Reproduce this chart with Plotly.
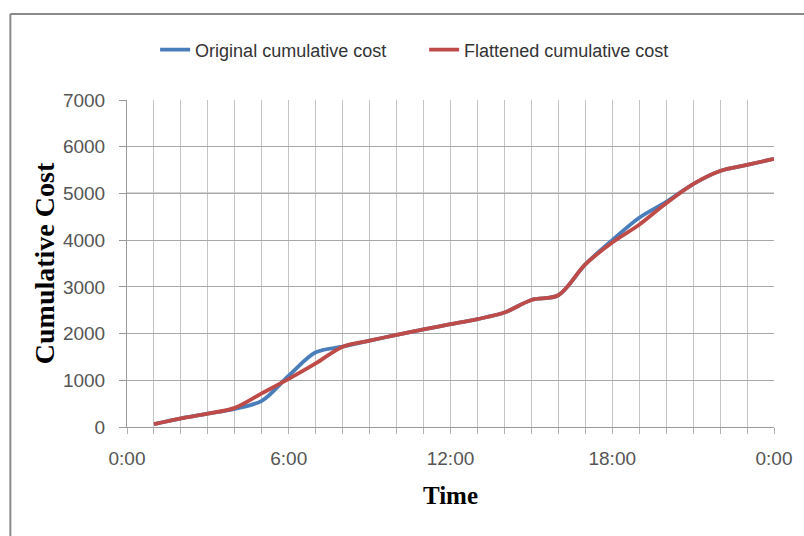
import plotly.graph_objects as go

# Hourly cumulative cost (hour of day, 1..24)
hours = list(range(1, 25))
original_cost = [60, 185, 285, 390, 560, 1100, 1600, 1720, 1850, 1970,
                 2090, 2200, 2310, 2450, 2720, 2820, 3480, 4000, 4480, 4820,
                 5200, 5480, 5610, 5740]
flattened_cost = [60, 185, 285, 410, 720, 1030, 1360, 1720, 1850, 1970,
                  2090, 2200, 2310, 2450, 2720, 2820, 3480, 3950, 4330, 4790,
                  5200, 5480, 5610, 5740]

# Axis ticks
hour_grid = list(range(0, 25))
tick_text = {0: "0:00", 6: "6:00", 12: "12:00", 18: "18:00", 24: "0:00"}
y_ticks = [0, 1000, 2000, 3000, 4000, 5000, 6000, 7000]

SANS = "Liberation Sans, Arial, sans-serif"
SERIF = "Liberation Serif, Times New Roman, serif"

fig = go.Figure()
fig.add_trace(go.Scatter(
    x=hours, y=original_cost, mode="lines", name="Original cumulative cost",
    line=dict(color="#4A7EBB", width=3.8, shape="spline", smoothing=0.9),
))
fig.add_trace(go.Scatter(
    x=hours, y=flattened_cost, mode="lines", name="Flattened cumulative cost",
    line=dict(color="#BE4B48", width=3.8, shape="spline", smoothing=0.9),
))

W, H = 804, 536
L, R, T, B = 127, 28, 100, 109
pw, ph = W - L - R, H - T - B

def px_x(v):
    return (v - L) / pw

def px_y(v):
    return (H - B - v) / ph

shapes = [
    # darker reference line at 5000
    dict(type="line", xref="x", yref="y", x0=0, x1=24, y0=5000, y1=5000,
         line=dict(color="#5a5a5a", width=1.2), layer="below"),
    # outer chart frame (top and left edges)
    dict(type="line", xref="paper", yref="paper", x0=px_x(10), x1=px_x(812),
         y0=px_y(14), y1=px_y(14), line=dict(color="#8a8a8a", width=2)),
    dict(type="line", xref="paper", yref="paper", x0=px_x(10), x1=px_x(10),
         y0=px_y(14), y1=px_y(545), line=dict(color="#8a8a8a", width=2)),
]

fig.update_layout(
    width=W, height=H,
    margin=dict(l=L, r=R, t=T, b=B),
    paper_bgcolor="white", plot_bgcolor="white",
    shapes=shapes,
    showlegend=True,
    legend=dict(
        orientation="h", xref="container", yref="container",
        x=0.5275, xanchor="center", y=1 - 50 / H, yanchor="middle",
        font=dict(family=SANS, size=18, color="#333333"),
        itemwidth=30, tracegroupgap=0,
        entrywidth=224, entrywidthmode="pixels",
    ),
    xaxis=dict(
        range=[0, 24], tickmode="array", tickvals=hour_grid,
        ticktext=[tick_text.get(h, "") for h in hour_grid],
        showgrid=True, gridcolor="#c4c4c4", gridwidth=1,
        showline=True, linecolor="#9a9a9a", linewidth=1,
        ticks="outside", ticklen=6, tickcolor="#b0b0b0",
        ticklabelstandoff=8,
        tickfont=dict(family=SANS, size=19, color="#555555"),
        title=dict(text="<b>Time</b>", font=dict(family=SERIF, size=25, color="#000000"),
                   standoff=18),
        zeroline=False,
    ),
    yaxis=dict(
        range=[0, 7000], tickmode="array", tickvals=y_ticks,
        showgrid=True, gridcolor="#a8a8a8", gridwidth=1,
        showline=True, linecolor="#9a9a9a", linewidth=1,
        ticks="outside", ticklen=7, tickcolor="#9a9a9a",
        ticklabelstandoff=10,
        tickfont=dict(family=SANS, size=19, color="#555555"),
        title=dict(text="<b>Cumulative Cost</b>", font=dict(family=SERIF, size=28, color="#000000"),
                   standoff=0),
        zeroline=False,
    ),
)

fig.write_html("out.html")
